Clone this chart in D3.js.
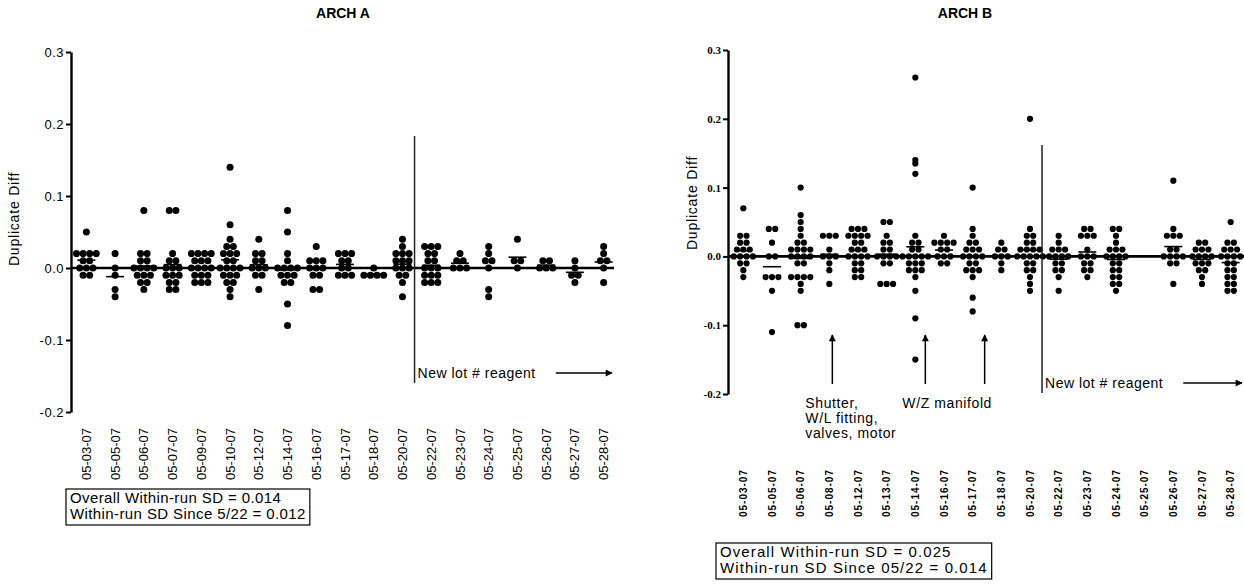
<!DOCTYPE html>
<html>
<head>
<meta charset="utf-8">
<script src="https://cdn.jsdelivr.net/npm/d3@7"></script>
<style>
  body { margin: 0; background: #fff; }
  svg text { font-family: "Liberation Sans", Arial, sans-serif; fill: #000; }
</style>
</head>
<body>
<svg id="chart" width="1244" height="586"></svg>
<script>
// -----------------------------
// Datos
// -----------------------------
const yTicks = [-0.2, -0.1, 0.0, 0.1, 0.2, 0.3];

const datesA = ["05-03-07", "05-05-07", "05-06-07", "05-07-07", "05-09-07", "05-10-07",
  "05-12-07", "05-14-07", "05-16-07", "05-17-07", "05-18-07", "05-20-07", "05-22-07",
  "05-23-07", "05-24-07", "05-25-07", "05-26-07", "05-27-07", "05-28-07"];

const valuesA = [
  [0.05, 0.02, 0.02, 0.02, 0.02, 0.01, 0.01, 0, 0, 0, -0.01, -0.01],
  [0.02, 0, -0.01, -0.03, -0.04],
  [0.08, 0.02, 0.02, 0.01, 0.01, 0, 0, 0, 0, -0.01, -0.01, -0.01, -0.02, -0.02, -0.03],
  [0.08, 0.08, 0.02, 0.01, 0.01, 0, 0, 0, -0.01, -0.01, -0.01, -0.02, -0.02, -0.03, -0.03],
  [0.02, 0.02, 0.02, 0.02, 0.01, 0.01, 0.01, 0, 0, 0, 0, -0.01, -0.01, -0.01, -0.02, -0.02, -0.02],
  [0.14, 0.06, 0.04, 0.03, 0.03, 0.02, 0.02, 0.02, 0.01, 0.01, 0, 0, 0, 0, -0.01, -0.01, -0.01, -0.02, -0.02, -0.03, -0.04],
  [0.04, 0.02, 0.02, 0.01, 0.01, 0, 0, 0, -0.01, -0.01, -0.03],
  [0.08, 0.05, 0.02, 0.01, 0, 0, 0, 0, -0.01, -0.01, -0.01, -0.02, -0.02, -0.05, -0.08],
  [0.03, 0.01, 0.01, 0.01, 0, 0, 0, -0.01, -0.01, -0.03, -0.03],
  [0.02, 0.02, 0.02, 0.01, 0.01, 0, 0, -0.01, -0.01, -0.01],
  [0, -0.01, -0.01, -0.01, -0.01],
  [0.04, 0.03, 0.02, 0.02, 0.02, 0.01, 0.01, 0.01, 0, 0, 0, -0.01, -0.01, -0.02, -0.04],
  [0.03, 0.03, 0.03, 0.02, 0.02, 0.01, 0.01, 0, 0, 0, -0.01, -0.01, -0.01, -0.02, -0.02, -0.02],
  [0.02, 0.01, 0.01, 0, 0, 0],
  [0.03, 0.02, 0.01, 0.01, 0, -0.03, -0.04],
  [0.04, 0.01, 0.01, 0],
  [0.01, 0.01, 0, 0, 0],
  [0.01, 0, -0.01, -0.01, -0.02],
  [0.03, 0.02, 0.01, 0.01, 0, -0.02]
];

const datesB = ["05-03-07", "05-05-07", "05-06-07", "05-08-07", "05-12-07", "05-13-07",
  "05-14-07", "05-16-07", "05-17-07", "05-18-07", "05-20-07", "05-22-07", "05-23-07",
  "05-24-07", "05-25-07", "05-26-07", "05-27-07", "05-28-07"];

const valuesB = [
  [0.07, 0.03, 0.03, 0.02, 0.02, 0.01, 0.01, 0.01, 0, 0, 0, 0, -0.01, -0.01, -0.02, -0.03],
  [0.04, 0.04, 0.02, 0, 0, -0.03, -0.03, -0.03, -0.05, -0.11],
  [0.10, 0.06, 0.05, 0.04, 0.03, 0.02, 0.02, 0.01, 0.01, 0.01, 0.01, 0, 0, 0, 0, -0.01, -0.01, -0.03, -0.03, -0.03, -0.03, -0.04, -0.05, -0.10, -0.10],
  [0.03, 0.03, 0.03, 0.01, 0, 0, 0, -0.01, -0.02, -0.04],
  [0.04, 0.04, 0.04, 0.03, 0.03, 0.03, 0.03, 0.02, 0.02, 0.01, 0.01, 0.01, 0, 0, 0, 0, -0.01, -0.01, -0.02, -0.02, -0.03, -0.03],
  [0.05, 0.05, 0.03, 0.02, 0.02, 0.01, 0.01, 0, 0, 0, 0, -0.01, -0.01, -0.04, -0.04, -0.04],
  [0.26, 0.14, 0.135, 0.12, 0.03, 0.02, 0.02, 0.01, 0.01, 0, 0, 0, 0, 0, -0.01, -0.01, -0.01, -0.02, -0.02, -0.02, -0.03, -0.05, -0.09, -0.15],
  [0.03, 0.02, 0.02, 0.02, 0.02, 0.01, 0.01, 0, 0, 0, -0.01, -0.01],
  [0.10, 0.04, 0.03, 0.02, 0.02, 0.01, 0.01, 0.01, 0, 0, 0, 0, -0.01, -0.01, -0.02, -0.02, -0.02, -0.03, -0.06, -0.08],
  [0.02, 0.01, 0.01, 0, 0, 0, -0.01, -0.02],
  [0.20, 0.04, 0.03, 0.03, 0.02, 0.02, 0.01, 0.01, 0.01, 0.01, 0, 0, 0, 0, 0, -0.01, -0.01, -0.02, -0.02, -0.03, -0.04, -0.05],
  [0.03, 0.02, 0.01, 0.01, 0.01, 0, 0, 0, 0, -0.01, -0.01, -0.02, -0.02, -0.03, -0.05],
  [0.04, 0.04, 0.03, 0.03, 0.03, 0.01, 0, 0, 0, -0.01, -0.01, -0.02, -0.02, -0.03],
  [0.04, 0.04, 0.03, 0.02, 0.01, 0.01, 0.01, 0, 0, 0, 0, -0.01, -0.01, -0.02, -0.02, -0.03, -0.03, -0.04, -0.04, -0.05],
  [],
  [0.11, 0.04, 0.03, 0.03, 0.03, 0.01, 0.01, 0, 0, 0, 0, -0.01, -0.01, -0.04],
  [0.02, 0.02, 0.01, 0.01, 0.01, 0, 0, 0, 0, -0.01, -0.01, -0.01, -0.02, -0.02, -0.03, -0.04],
  [0.05, 0.02, 0.02, 0.01, 0.01, 0.01, 0, 0, 0, 0, -0.01, -0.01, -0.02, -0.02, -0.03, -0.03, -0.04, -0.04, -0.05, -0.05]
];

const sdTextA = ["Overall Within-run SD = 0.014", "Within-run SD Since 5/22 = 0.012"];
const sdTextB = ["Overall Within-run SD = 0.025", "Within-run SD Since 05/22 = 0.014"];
const notesB = [
  { fecha: "05-08-07", dx: 3, lines: ["Shutter,", "W/L fitting,", "valves, motor"], tx: -27 },
  { fecha: "05-14-07", dx: 10, lines: ["W/Z manifold"], tx: -23 },
  { fecha: "05-17-07", dx: 12, lines: [], tx: 0 }
];

const svg = d3.select("#chart");

// punta de flecha
svg.append("defs").append("marker")
  .attr("id", "flecha")
  .attr("viewBox", "0 0 10 10")
  .attr("refX", 9).attr("refY", 5)
  .attr("markerWidth", 9).attr("markerHeight", 7)
  .attr("markerUnits", "userSpaceOnUse")
  .attr("orient", "auto")
  .append("path").attr("d", "M0,0 L10,5 L0,10 Z").attr("fill", "#000");

// -----------------------------
// Panel generico
// -----------------------------
function dibujarPanel(o) {
  const g = svg.append("g");
  const x = d3.scaleBand().domain(o.dates).range(o.xRange);
  const y = d3.scaleLinear().domain([-0.2, 0.3]).range(o.yRange);
  const cx = d => x(d) + x.bandwidth() / 2;

  // titulo
  g.append("text")
    .attr("x", o.titleX).attr("y", 18)
    .attr("text-anchor", "middle")
    .style("font-weight", "bold").style("font-size", "14px")
    .text(o.title);

  // eje Y
  const ax = g.append("g")
    .attr("transform", `translate(${o.xRange[0] - 1},0)`)
    .call(d3.axisLeft(y).tickValues(yTicks).tickFormat(d => d.toFixed(1)).tickSize(5).tickSizeOuter(0));
  ax.select(".domain").attr("stroke-width", 2.4);
  ax.selectAll(".tick line").attr("stroke-width", 2);
  ax.selectAll(".tick text")
    .style("font-size", o.tickFont.size)
    .style("font-family", o.tickFont.family)
    .style("font-weight", o.tickFont.weight)
    .style("letter-spacing", o.tickFont.spacing)
    .attr("x", -7);

  g.append("text")
    .attr("transform", `translate(${o.yTitleX},${o.yTitleY}) rotate(-90)`)
    .attr("text-anchor", "middle")
    .style("font-size", "14px").style("letter-spacing", "0.8px")
    .text("Duplicate Diff");

  // etiquetas X
  g.selectAll(".xl").data(o.dates).join("text")
    .attr("transform", d => `translate(${cx(d)},${o.labelY}) rotate(-90)`)
    .attr("text-anchor", "end")
    .attr("dy", "0.35em")
    .style("font-size", o.labelFont.size)
    .style("font-weight", o.labelFont.weight)
    .style("letter-spacing", o.labelFont.spacing)
    .text(d => d);

  // linea de cero
  g.append("line")
    .attr("x1", o.xRange[0]).attr("x2", o.zeroEnd)
    .attr("y1", y(0)).attr("y2", y(0))
    .attr("stroke", "#000").attr("stroke-width", 2.6);

  // puntos: los valores iguales se reparten en horizontal
  const puntos = [];
  o.values.forEach((vals, i) => {
    const grupos = d3.group(vals, v => v.toFixed(3));
    grupos.forEach(arr => {
      arr.forEach((v, j) => {
        puntos.push({ fecha: o.dates[i], v, off: (j - (arr.length - 1) / 2) * o.gap });
      });
    });
  });

  g.selectAll("circle.p").data(puntos).join("circle")
    .attr("class", "p")
    .attr("cx", d => cx(d.fecha) + d.off)
    .attr("cy", d => y(d.v))
    .attr("r", o.r)
    .attr("fill", "#000");

  // media de cada dia
  const medias = o.dates.map((d, i) => ({ fecha: d, m: d3.mean(o.values[i]) }))
    .filter(d => d.m !== undefined);
  g.selectAll("line.m").data(medias).join("line")
    .attr("class", "m")
    .attr("x1", d => cx(d.fecha) - 9).attr("x2", d => cx(d.fecha) + 9)
    .attr("y1", d => y(d.m)).attr("y2", d => y(d.m))
    .attr("stroke", "#000").attr("stroke-width", 1.6);

  // cambio de lote
  const xi = o.dates.indexOf("05-20-07");
  const xLote = cx(o.dates[xi]) + x.step() * 0.42;
  g.append("line")
    .attr("x1", xLote).attr("x2", xLote)
    .attr("y1", o.loteY[0]).attr("y2", o.loteY[1])
    .attr("stroke", "#222").attr("stroke-width", 1.5);
  const lt = g.append("text")
    .attr("x", xLote + 3).attr("y", o.loteY[1] - 5)
    .style("font-size", "14px").style("letter-spacing", "0.5px")
    .text("New lot # reagent");
  const finTexto = xLote + 3 + lt.node().getComputedTextLength();
  g.append("line")
    .attr("x1", finTexto + 20).attr("x2", o.zeroEnd - 2)
    .attr("y1", o.loteY[1] - 10).attr("y2", o.loteY[1] - 10)
    .attr("stroke", "#000").attr("stroke-width", 1.5)
    .attr("marker-end", "url(#flecha)");

  // recuadro de SD
  const caja = g.append("g").attr("transform", `translate(${o.boxX},${o.boxY})`);
  const textos = caja.selectAll("text").data(o.sd).join("text")
    .attr("x", 4).attr("y", (d, i) => 14 + i * 16)
    .style("font-size", "15px").style("letter-spacing", o.sdSpacing)
    .text(d => d);
  const ancho = d3.max(textos.nodes(), n => n.getComputedTextLength()) + 8;
  caja.insert("rect", "text")
    .attr("width", ancho).attr("height", 36)
    .attr("fill", "none").attr("stroke", "#000").attr("stroke-width", 1.2);

  return { g, x, y, cx };
}

// -----------------------------
// ARCH A
// -----------------------------
dibujarPanel({
  title: "ARCH A", titleX: 343,
  dates: datesA, values: valuesA,
  xRange: [72, 618], yRange: [412, 52], zeroEnd: 614,
  r: 3.5, gap: 6.6,
  tickFont: { size: "13px", family: "Liberation Sans, Arial, sans-serif", weight: "normal", spacing: "0.5px" },
  labelFont: { size: "13px", weight: "normal", spacing: "0px" },
  labelY: 428, yTitleX: 19, yTitleY: 219,
  loteY: [136, 383],
  boxX: 66, boxY: 489, sd: sdTextA, sdSpacing: "0.4px"
});

// -----------------------------
// ARCH B
// -----------------------------
const pb = dibujarPanel({
  title: "ARCH B", titleX: 965,
  dates: datesB, values: valuesB,
  xRange: [729, 1245], yRange: [394, 50], zeroEnd: 1244,
  r: 3.1, gap: 6.4,
  tickFont: { size: "11px", family: "Liberation Serif, Times New Roman, serif", weight: "bold", spacing: "0px" },
  labelFont: { size: "10px", weight: "bold", spacing: "1px" },
  labelY: 469, yTitleX: 697, yTitleY: 203,
  loteY: [145, 393],
  boxX: 716, boxY: 543, sd: sdTextB, sdSpacing: "1.1px"
});

// anotaciones de mantenimiento
notesB.forEach(n => {
  const ax = pb.cx(n.fecha) + n.dx;
  pb.g.append("line")
    .attr("x1", ax).attr("x2", ax)
    .attr("y1", 384).attr("y2", 335)
    .attr("stroke", "#000").attr("stroke-width", 1.5)
    .attr("marker-end", "url(#flecha)");
  pb.g.selectAll(null).data(n.lines).join("text")
    .attr("x", ax + n.tx).attr("y", (d, i) => 408 + i * 15)
    .style("font-size", "14px").style("letter-spacing", "0.6px")
    .text(d => d);
});
</script>
</body>
</html>
